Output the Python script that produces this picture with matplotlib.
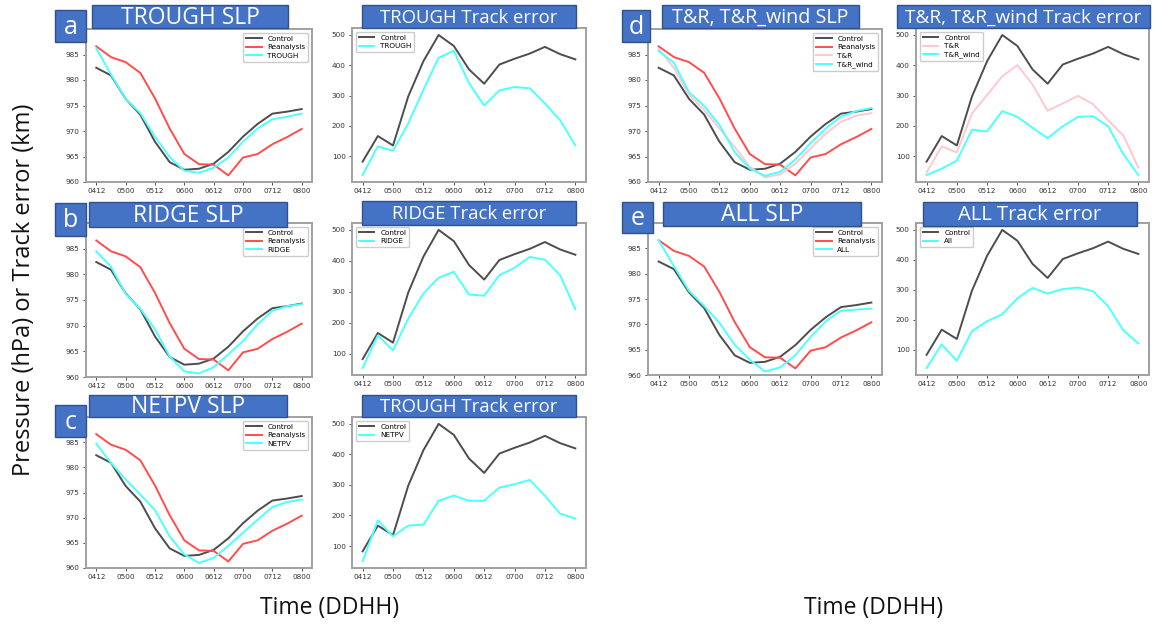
import matplotlib
matplotlib.use("Agg")
import matplotlib.pyplot as plt
from matplotlib.patches import Rectangle

times = ["0412", "0418", "0500", "0506", "0512", "0518", "0600", "0606",
         "0612", "0618", "0700", "0706", "0712", "0718", "0800"]
tick_labels = ["0412", "0500", "0512", "0600", "0612", "0700", "0712", "0800"]

# SLP (hPa)
slp_control = [982.4, 980.9, 976.3, 973.2, 967.9, 963.9, 962.4, 962.6, 963.6, 965.9, 968.9, 971.4, 973.4, 973.8, 974.3]
slp_reanalysis = [986.6, 984.5, 983.5, 981.4, 976.4, 970.5, 965.5, 963.5, 963.4, 961.3, 964.8, 965.5, 967.4, 968.8, 970.4]
slp_trough = [986.2, 981.1, 976.3, 973.5, 968.9, 964.9, 962.2, 961.8, 962.8, 964.8, 967.9, 970.5, 972.3, 972.8, 973.4]
slp_ridge = [984.5, 981.5, 976.2, 973.3, 969.3, 964.0, 961.1, 960.7, 961.9, 964.4, 967.0, 970.3, 972.9, 973.8, 974.2]
slp_netpv = [984.7, 980.9, 977.6, 974.6, 971.5, 966.3, 962.7, 961.0, 962.0, 964.4, 967.0, 969.6, 972.1, 973.1, 973.6]
slp_tr = [986.1, 982.4, 977.1, 974.1, 970.5, 966.9, 963.0, 960.9, 961.5, 963.6, 966.6, 969.5, 971.8, 973.0, 973.5]
slp_tr_wind = [985.7, 983.4, 977.6, 974.9, 971.2, 965.9, 962.6, 961.2, 962.0, 964.4, 967.6, 970.5, 972.8, 973.9, 974.5]
slp_all = [986.6, 981.5, 976.6, 973.6, 970.3, 966.0, 963.0, 960.7, 961.5, 963.9, 967.5, 970.6, 972.7, 972.9, 973.1]

# Track error (km)
trk_control = [83, 167, 136, 297, 413, 499, 463, 386, 339, 402, 421, 438, 460, 436, 419]
trk_trough = [39, 133, 119, 208, 319, 424, 447, 341, 267, 317, 328, 324, 274, 219, 136]
trk_ridge = [54, 159, 111, 213, 294, 345, 364, 291, 287, 353, 377, 412, 403, 353, 243]
trk_netpv = [51, 184, 132, 167, 170, 248, 265, 248, 248, 291, 302, 316, 264, 206, 190]
trk_tr = [47, 133, 113, 241, 302, 363, 400, 336, 250, 274, 299, 272, 219, 169, 63]
trk_tr_wind = [39, 60, 86, 188, 182, 249, 230, 194, 160, 199, 230, 232, 199, 108, 39]
trk_all = [39, 118, 63, 162, 195, 218, 271, 306, 287, 302, 307, 295, 245, 165, 121]

C_CTRL = "#4d4d4d"
C_REAN = "#ff4d4d"
C_CYAN = "#4dffff"
C_PINK = "#ffc8cf"
BLUE = "#4472c4"
BLUE_EDGE = "#2f528f"

W, H = 1158, 632
fig = plt.figure(figsize=(W / 100, H / 100), dpi=100)


def ax_px(l, r, t, b):
    return fig.add_axes([l / W, 1 - b / H, (r - l) / W, (b - t) / H])


def box(l, r, t, b, text, fs):
    fig.add_artist(Rectangle((l / W, 1 - b / H), (r - l) / W, (b - t) / H,
                             transform=fig.transFigure, facecolor=BLUE,
                             edgecolor=BLUE_EDGE, lw=1.0, zorder=10))
    fig.text((l + r) / 2 / W, 1 - (t + b) / 2 / H - 0.002, text, color="white",
             fontsize=fs, ha="center", va="center", family="Open Sans", zorder=11)


def style(ax):
    x = list(range(len(times)))
    ax.set_xticks(x[::2])
    ax.set_xticklabels(tick_labels)
    ax.tick_params(labelsize=5.2, length=2.5, width=0.6, colors="#333333", pad=2)
    for s in ax.spines.values():
        s.set_color("#a0a0a0")
        s.set_linewidth(1.4)


def slp_panel(pos, series):
    ax = ax_px(*pos)
    x = list(range(len(times)))
    for vals, col, lab in series:
        ax.plot(x, vals, color=col, lw=1.4, label=lab)
    ax.set_ylim(960, 990)
    ax.set_yticks([960, 965, 970, 975, 980, 985])
    style(ax)
    ax.legend(loc="upper right", fontsize=5.2, handlelength=2.2,
              borderpad=0.4, labelspacing=0.35, framealpha=1)
    return ax


def trk_panel(pos, series):
    ax = ax_px(*pos)
    x = list(range(len(times)))
    for vals, col, lab in series:
        ax.plot(x, vals, color=col, lw=1.4, label=lab)
    ax.set_yticks([100, 200, 300, 400, 500])
    style(ax)
    ax.legend(loc="upper left", fontsize=5.2, handlelength=2.2,
              borderpad=0.4, labelspacing=0.35, framealpha=1)
    return ax


# Row a
slp_panel((86, 312, 29, 182), [(slp_control, C_CTRL, "Control"),
                                (slp_reanalysis, C_REAN, "Reanalysis"),
                                (slp_trough, C_CYAN, "TROUGH")])
trk_panel((352, 586, 28, 182), [(trk_control, C_CTRL, "Control"),
                                 (trk_trough, C_CYAN, "TROUGH")])
# Row b
slp_panel((86, 312, 223, 377), [(slp_control, C_CTRL, "Control"),
                                 (slp_reanalysis, C_REAN, "Reanalysis"),
                                 (slp_ridge, C_CYAN, "RIDGE")])
trk_panel((352, 586, 223, 375), [(trk_control, C_CTRL, "Control"),
                                  (trk_ridge, C_CYAN, "RIDGE")])
# Row c
slp_panel((86, 312, 417, 568), [(slp_control, C_CTRL, "Control"),
                                 (slp_reanalysis, C_REAN, "Reanalysis"),
                                 (slp_netpv, C_CYAN, "NETPV")])
trk_panel((352, 586, 417, 568), [(trk_control, C_CTRL, "Control"),
                                  (trk_netpv, C_CYAN, "NETPV")])
# Row d
slp_panel((648, 882, 29, 182), [(slp_control, C_CTRL, "Control"),
                                 (slp_reanalysis, C_REAN, "Reanalysis"),
                                 (slp_tr, C_PINK, "T&R"),
                                 (slp_tr_wind, C_CYAN, "T&R_wind")])
trk_panel((916, 1149, 28, 182), [(trk_control, C_CTRL, "Control"),
                                  (trk_tr, C_PINK, "T&R"),
                                  (trk_tr_wind, C_CYAN, "T&R_wind")])
# Row e
slp_panel((648, 882, 223, 375), [(slp_control, C_CTRL, "Control"),
                                  (slp_reanalysis, C_REAN, "Reanalysis"),
                                  (slp_all, C_CYAN, "ALL")])
trk_panel((916, 1149, 223, 375), [(trk_control, C_CTRL, "Control"),
                                   (trk_all, C_CYAN, "All")])

# Title boxes
box(92, 288, 5, 28, "TROUGH SLP", 16.5)
box(362, 576, 5, 28, "TROUGH Track error", 13.3)
box(89, 287, 202, 227, "RIDGE SLP", 16.5)
box(362, 576, 201, 225, "RIDGE Track error", 13.3)
box(89, 287, 395, 417, "NETPV SLP", 16.5)
box(362, 576, 395, 417, "TROUGH Track error", 13.3)
box(662, 859, 5, 28, "T&R, T&R_wind SLP", 14.2)
box(897, 1150, 5, 28, "T&R, T&R_wind Track error", 13.7)
box(663, 861, 202, 226, "ALL SLP", 16.5)
box(923, 1137, 202, 226, "ALL Track error", 14.5)

# Letter boxes
box(55, 86, 10, 42, "a", 18)
box(55, 86, 203, 236, "b", 18)
box(55, 86, 405, 437, "c", 18)
box(622, 650, 10, 42, "d", 18)
box(622, 653, 202, 233, "e", 18)

# Shared labels
fig.text(24 / W, 1 - 290 / H, "Pressure (hPa) or Track error (km)", rotation=90,
         fontsize=17, ha="center", va="center", family="Open Sans", color="#111111")
fig.text(330 / W, 1 - 608 / H, "Time (DDHH)", fontsize=16.5, ha="center",
         va="center", family="Open Sans", color="#111111")
fig.text(874 / W, 1 - 608 / H, "Time (DDHH)", fontsize=16.5, ha="center",
         va="center", family="Open Sans", color="#111111")

fig.savefig("out.png", dpi=100, facecolor="white")
